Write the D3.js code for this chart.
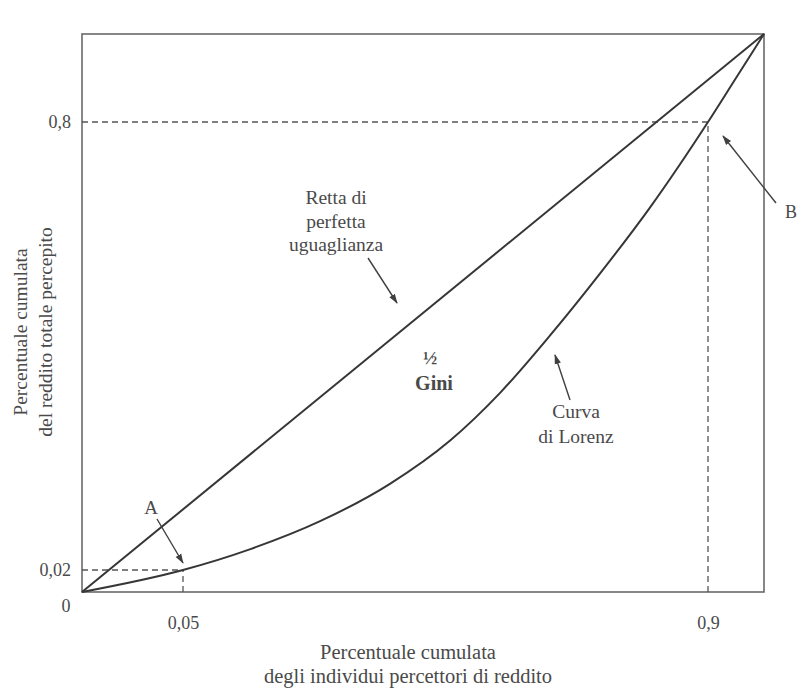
<!DOCTYPE html>
<html>
<head>
<meta charset="utf-8">
<script src="https://cdn.jsdelivr.net/npm/d3@7"></script>
<style>
  html, body { margin: 0; padding: 0; background: #fff; }
  svg { display: block; }
  text { font-family: "Liberation Serif", "DejaVu Serif", serif; fill: #4a4a4a; }
</style>
</head>
<body>
<svg id="chart" width="805" height="691"></svg>
<script>
// ---- data ----
const xTickValues = [0.05, 0.9];
const xTickLabels = ["0,05", "0,9"];
const yTickValues = [0.02, 0.8];
const yTickLabels = ["0,02", "0,8"];
const equalityX = [0, 1];
const equalityY = [0, 1];
const lorenzX = [0, 0.05, 0.158, 0.272, 0.385, 0.482, 0.563, 0.644, 0.725, 0.806, 0.9, 0.95, 1];
const lorenzY = [0, 0.02, 0.056, 0.105, 0.170, 0.245, 0.328, 0.428, 0.536, 0.651, 0.8, 0.90, 1];
const xTitle = ["Percentuale cumulata", "degli individui percettori di reddito"];
const yTitle = ["Percentuale cumulata", "del reddito totale percepito"];

// ---- layout ----
const svg = d3.select("#chart");
const L = 82, R = 764, T = 34, B = 592;
// schematic (non-proportional) axes, as in the original drawing
const x = d3.scaleLinear().domain([0, 0.05, 0.9, 1]).range([L, 183, 708, R]);
const y = d3.scaleLinear().domain([0, 0.02, 0.8, 1]).range([B, 570, 122, T]);

const ink = "#363636";

// arrow marker
svg.append("defs").append("marker")
  .attr("id", "ah").attr("viewBox", "0 0 10 10").attr("refX", 9).attr("refY", 5)
  .attr("markerWidth", 10).attr("markerHeight", 10).attr("markerUnits", "userSpaceOnUse")
  .attr("orient", "auto")
  .append("path").attr("d", "M0,1.8 L10,5 L0,8.2 Z").attr("fill", "#404040");

// frame
svg.append("rect").attr("x", L).attr("y", T).attr("width", R - L).attr("height", B - T)
  .attr("fill", "none").attr("stroke", "#6a6a6a").attr("stroke-width", 1.6);

// dashed guides
const guides = [
  [[0, yTickValues[0]], [xTickValues[0], yTickValues[0]]],
  [[xTickValues[0], 0], [xTickValues[0], yTickValues[0]]],
  [[0, yTickValues[1]], [xTickValues[1], yTickValues[1]]],
  [[xTickValues[1], 0], [xTickValues[1], yTickValues[1]]]
];
svg.append("g").selectAll("line").data(guides).join("line")
  .attr("x1", d => x(d[0][0])).attr("y1", d => y(d[0][1]))
  .attr("x2", d => x(d[1][0])).attr("y2", d => y(d[1][1]))
  .attr("stroke", "#555").attr("stroke-width", 1.3).attr("stroke-dasharray", "6,4");

// equality line
const eq = equalityX.map((v, i) => [v, equalityY[i]]);
svg.append("path").datum(eq)
  .attr("d", d3.line().x(d => x(d[0])).y(d => y(d[1])))
  .attr("fill", "none").attr("stroke", ink).attr("stroke-width", 2);

// Lorenz curve
const lz = lorenzX.map((v, i) => [v, lorenzY[i]]);
svg.append("path").datum(lz)
  .attr("d", d3.line().x(d => x(d[0])).y(d => y(d[1])).curve(d3.curveMonotoneX))
  .attr("fill", "none").attr("stroke", ink).attr("stroke-width", 2);

// axes (labels only)
const xAxis = d3.axisBottom(x).tickValues(xTickValues)
  .tickFormat((d, i) => xTickLabels[i]).tickSize(0).tickPadding(24);
const gx = svg.append("g").attr("transform", `translate(0,${B})`).call(xAxis);
gx.select(".domain").remove();
gx.selectAll("text").style("font-family", "Liberation Serif, serif").style("font-size", "18px").attr("fill", "#4a4a4a");

const yAxis = d3.axisLeft(y).tickValues(yTickValues)
  .tickFormat((d, i) => yTickLabels[i]).tickSize(0).tickPadding(11);
const gy = svg.append("g").attr("transform", `translate(${L},0)`).call(yAxis);
gy.select(".domain").remove();
gy.selectAll("text").style("font-family", "Liberation Serif, serif").style("font-size", "18px").attr("fill", "#4a4a4a");

// origin label
svg.append("text").attr("x", x(0) - 16).attr("y", y(0) + 20)
  .attr("text-anchor", "middle").style("font-size", "18px").text("0");

// axis titles
svg.append("text").attr("text-anchor", "middle").style("font-size", "20.5px")
  .selectAll("tspan").data(xTitle).join("tspan")
  .attr("x", 408).attr("y", (d, i) => 659 + i * 24).text(d => d);

svg.append("text").attr("text-anchor", "middle").style("font-size", "19.5px")
  .attr("transform", "translate(0,332) rotate(-90)")
  .selectAll("tspan").data(yTitle).join("tspan")
  .attr("x", 0).attr("y", (d, i) => 27 + i * 25).text(d => d);

// annotations
function label(lines, cx, cy, size, weight, lh) {
  svg.append("text").attr("text-anchor", "middle").style("font-size", size + "px")
    .style("font-weight", weight || "normal")
    .selectAll("tspan").data(lines).join("tspan")
    .attr("x", cx).attr("y", (d, i) => cy + i * (lh || 23)).text(d => d);
}
function arrow(x1, y1, x2, y2) {
  svg.append("line").attr("x1", x1).attr("y1", y1).attr("x2", x2).attr("y2", y2)
    .attr("stroke", "#404040").attr("stroke-width", 1.4).attr("marker-end", "url(#ah)");
}

label(["Retta di", "perfetta", "uguaglianza"], 336, 204, 19.5, "normal", 23.5);
arrow(368, 258, 397, 303);

svg.append("text").attr("x", 430).attr("y", 364).attr("text-anchor", "middle")
  .style("font-size", "19px").style("font-weight", "bold").text("½");
label(["Gini"], 434, 390, 20, "bold");

label(["Curva", "di Lorenz"], 576, 418, 19.5, "normal", 25);
arrow(570, 400, 555, 355);

label(["A"], 151, 514, 19, "normal");
arrow(157, 519, 183, 563);

label(["B"], 791, 218, 18, "normal");
arrow(776, 203, 723, 136);
</script>
</body>
</html>
